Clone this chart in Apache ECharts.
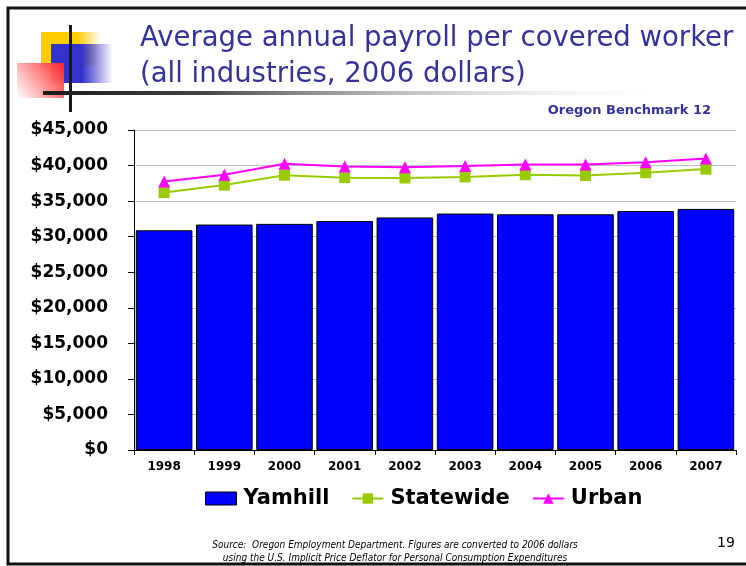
<!DOCTYPE html>
<html>
<head>
  <meta charset="UTF-8">
  <script src="https://cdn.jsdelivr.net/npm/echarts@6/dist/echarts.min.js"></script>
  <style>
    html, body { margin: 0; padding: 0; background: #fff; }
    #chart { width: 746px; height: 566px; }
  </style>
</head>
<body>
  <div id="chart"></div>
  <script>
    // chart data
    var years = ['1998', '1999', '2000', '2001', '2002', '2003', '2004', '2005', '2006', '2007'];
    var yamhill = [30900, 31700, 31800, 32200, 32700, 33250, 33150, 33150, 33600, 33900];
    var statewide = [36200, 37250, 38650, 38300, 38250, 38400, 38700, 38600, 39000, 39500];
    var urban = [37750, 38700, 40250, 39850, 39750, 39950, 40150, 40150, 40450, 41000];

    var boldFont = '"DejaVu Sans", "Liberation Sans", sans-serif';

    var myChart = echarts.init(document.getElementById('chart'));

    myChart.setOption({
      animation: false,
      backgroundColor: '#fff',
      textStyle: { fontFamily: boldFont },
      grid: { left: 134, right: 10, top: 130, bottom: 116, containLabel: false },
      legend: {
        top: 483,
        left: 200,
        itemGap: 22,
        itemWidth: 31,
        itemHeight: 13,
        textStyle: { fontSize: 21, fontWeight: 'bold', color: '#000', fontFamily: boldFont, padding: [0, 0, 0, 2] },
        data: [
          { name: 'Yamhill', icon: 'rect', itemStyle: { borderWidth: 1, borderColor: '#000' } },
          { name: 'Statewide' },
          { name: 'Urban' }
        ]
      },
      xAxis: {
        type: 'category',
        data: years,
        axisLine: { lineStyle: { color: '#000', width: 1 } },
        axisTick: { show: true, alignWithLabel: false, length: 5, lineStyle: { color: '#000' } },
        axisLabel: { margin: 11, fontSize: 12, fontWeight: 'bold', color: '#000', fontFamily: boldFont }
      },
      yAxis: {
        type: 'value',
        min: 0,
        max: 45000,
        interval: 5000,
        axisLine: { show: true, lineStyle: { color: '#000', width: 1 } },
        axisTick: { show: true, length: 6, lineStyle: { color: '#000' } },
        splitLine: { lineStyle: { color: '#c0c0c0', width: 1 } },
        axisLabel: {
          margin: 26,
          fontSize: 17,
          fontWeight: 'bold',
          color: '#000',
          fontFamily: boldFont,
          formatter: function (v) { return '$' + v.toLocaleString('en-US'); }
        }
      },
      series: [
        {
          name: 'Yamhill',
          type: 'bar',
          data: yamhill,
          barCategoryGap: '6%',
          itemStyle: { color: '#0000ff', borderColor: '#000', borderWidth: 1 }
        },
        {
          name: 'Statewide',
          type: 'line',
          data: statewide,
          symbol: 'rect',
          symbolSize: 11,
          lineStyle: { color: '#99cc00', width: 2 },
          itemStyle: { color: '#99cc00' }
        },
        {
          name: 'Urban',
          type: 'line',
          data: urban,
          symbol: 'triangle',
          symbolSize: 12,
          lineStyle: { color: '#ff00ff', width: 2 },
          itemStyle: { color: '#ff00ff' }
        }
      ],
      graphic: [
        // slide frame
        { type: 'rect', shape: { x: 8, y: 8, width: 760, height: 556 }, style: { fill: 'none', stroke: '#111', lineWidth: 3 }, silent: true },
        // title decoration
        { type: 'rect', shape: { x: 41, y: 32, width: 60, height: 34 },
          style: { fill: new echarts.graphic.LinearGradient(0, 0, 1, 0, [
            { offset: 0, color: '#ffcc00' }, { offset: 0.6, color: '#ffcc00' }, { offset: 1, color: 'rgba(255,204,0,0)' }]) } },
        { type: 'rect', shape: { x: 41, y: 32, width: 36, height: 34 }, style: { fill: '#ffcc00' } },
        { type: 'rect', shape: { x: 51, y: 44, width: 62, height: 39 },
          style: { fill: new echarts.graphic.LinearGradient(0, 0, 1, 0, [
            { offset: 0, color: '#3333cc' }, { offset: 0.5, color: '#3333cc' }, { offset: 1, color: 'rgba(51,51,204,0)' }]) } },
        { type: 'rect', shape: { x: 17, y: 63, width: 47, height: 35 },
          style: { fill: new echarts.graphic.LinearGradient(1, 0, 0, 1, [
            { offset: 0, color: '#ff2020' }, { offset: 1, color: 'rgba(255,255,255,0.9)' }]) } },
        { type: 'rect', shape: { x: 69, y: 25, width: 3, height: 87 }, style: { fill: '#1a1a1a' } },
        { type: 'rect', shape: { x: 43, y: 91, width: 640, height: 4 },
          style: { fill: new echarts.graphic.LinearGradient(0, 0, 1, 0, [
            { offset: 0, color: '#1a1a1a' }, { offset: 0.25, color: '#444' }, { offset: 1, color: 'rgba(255,255,255,0)' }]) } },
        // title
        { type: 'text', left: 140, top: 21,
          style: { text: 'Average annual payroll per covered worker\n(all industries, 2006 dollars)', fill: '#333399',
                   font: '27.5px "DejaVu Sans", sans-serif', lineHeight: 36 } },
        { type: 'text', right: 35, top: 104,
          style: { text: 'Oregon Benchmark 12', fill: '#333399', font: 'bold 13px "DejaVu Sans", sans-serif' } },
        // source note and page number
        { type: 'text', x: 395, y: 539,
          style: { text: 'Source:  Oregon Employment Department. Figures are converted to 2006 dollars\nusing the U.S. Implicit Price Deflator for Personal Consumption Expenditures',
                   fill: '#000', align: 'center', lineHeight: 13, font: 'italic 10px "DejaVu Sans Condensed", sans-serif' } },
        { type: 'text', left: 717, top: 536,
          style: { text: '19', fill: '#000', font: '14px "DejaVu Sans", sans-serif' } }
      ]
    });
  </script>
</body>
</html>
